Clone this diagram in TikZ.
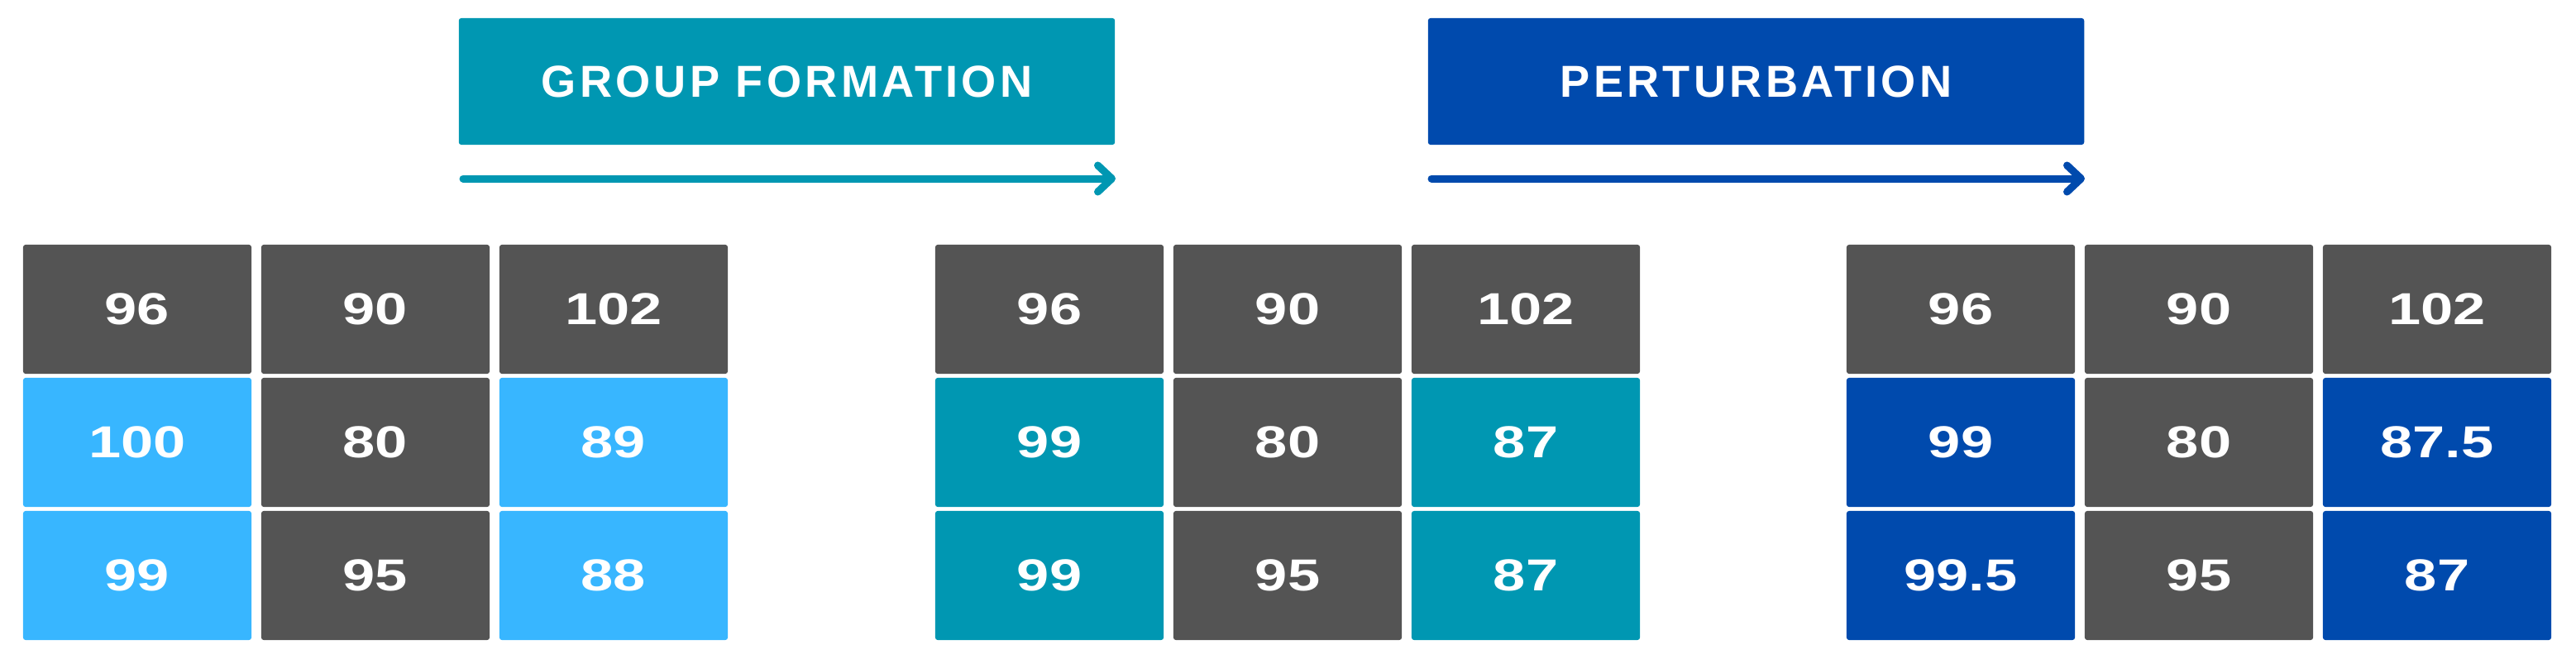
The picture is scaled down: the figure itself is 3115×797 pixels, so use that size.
\documentclass[tikz,border=0pt]{standalone}
\usepackage{fontspec}
\setmainfont{Liberation Sans}
\newfontfamily\titlefont[LetterSpace=8]{Liberation Sans Bold}
\newfontfamily\numfont[FakeStretch=1.3]{Liberation Sans Bold}
\usetikzlibrary{arrows.meta}
\definecolor{cgray}{HTML}{545454}
\definecolor{clight}{HTML}{38B6FF}
\definecolor{cteal}{HTML}{0097B2}
\definecolor{cblue}{HTML}{004AAD}
\tikzset{
  cellbox/.style={fill=#1, rounded corners=0.03cm, minimum width=2.76cm, minimum height=1.56cm, inner sep=0pt, text=white, font=\numfont\fontsize{15.4pt}{18pt}\selectfont},
  titlebox/.style={fill=#1, rounded corners=0.03cm, minimum width=7.93cm, minimum height=1.53cm, inner sep=0pt, text=white, font=\titlefont\fontsize{15.4pt}{18pt}\selectfont},
  flowarrow/.style={draw=#1, line width=0.09cm, line cap=round, -{Straight Barb[round,length=0.17cm,width=0.32cm]}}
}
\begin{document}
\begin{tikzpicture}[x=0.01cm,y=-0.01cm]
\useasboundingbox (0,0) rectangle (3115,797);
\node[titlebox=cteal] (gf) at (951.5,98.5) {GROUP FORMATION};
\node[titlebox=cblue] (pt) at (2123.5,98.5) {PERTURBATION};
\coordinate (gfa) at (560,216);
\coordinate (gfb) at (1349,216);
\coordinate (pta) at (1731,216);
\coordinate (ptb) at (2521,216);
\draw[flowarrow=cteal] (gfa) -- (gfb);
\draw[flowarrow=cblue] (pta) -- (ptb);
\foreach \g/\gx/\c/\r/\col/\val in {
  1/28/0/0/cgray/96, 1/28/1/0/cgray/90, 1/28/2/0/cgray/102,
  1/28/0/1/clight/100, 1/28/1/1/cgray/80, 1/28/2/1/clight/89,
  1/28/0/2/clight/99, 1/28/1/2/cgray/95, 1/28/2/2/clight/88,
  2/1131/0/0/cgray/96, 2/1131/1/0/cgray/90, 2/1131/2/0/cgray/102,
  2/1131/0/1/cteal/99, 2/1131/1/1/cgray/80, 2/1131/2/1/cteal/87,
  2/1131/0/2/cteal/99, 2/1131/1/2/cgray/95, 2/1131/2/2/cteal/87,
  3/2233/0/0/cgray/96, 3/2233/1/0/cgray/90, 3/2233/2/0/cgray/102,
  3/2233/0/1/cblue/99, 3/2233/1/1/cgray/80, 3/2233/2/1/cblue/87.5,
  3/2233/0/2/cblue/99.5, 3/2233/1/2/cgray/95, 3/2233/2/2/cblue/87}
{
  \node[cellbox=\col] (g\g-\r-\c) at ({\gx+138+\c*288},{374+\r*161}) {\val};
}
\end{tikzpicture}
\end{document}
